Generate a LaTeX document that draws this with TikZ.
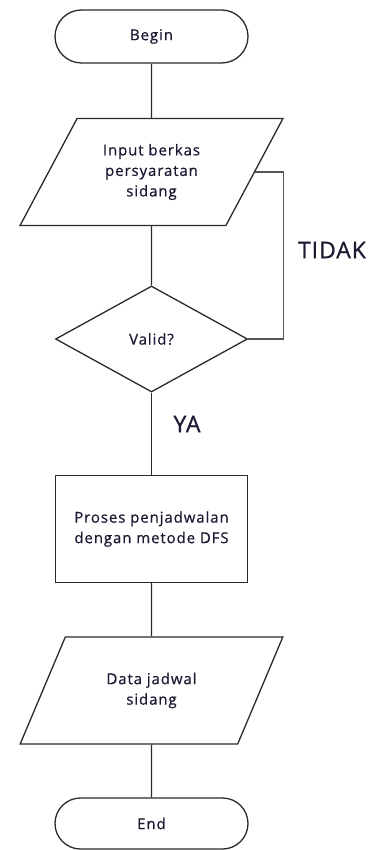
\documentclass[tikz,border=0pt]{standalone}
\usepackage{fontspec}
\setmainfont{Open Sans}[LetterSpace=6, FakeBold=0.6]
\newfontfamily\labelfont{Open Sans}[LetterSpace=4, FakeBold=0.8]
\usetikzlibrary{shapes.geometric,shapes.misc}
\definecolor{linegray}{HTML}{2A2A2A}
\definecolor{loopgray}{HTML}{555555}
\definecolor{txt}{HTML}{1A1A33}
\tikzset{
  base/.style={draw=linegray, line width=1.3pt, text=txt, font=\fontsize{15}{20.5}\selectfont, align=center, inner sep=0pt},
  terminal/.style={base, rounded rectangle, minimum width=193pt, minimum height=53pt},
  io/.style={base, trapezium, trapezium left angle=56.4, trapezium right angle=123.6, trapezium stretches=true, minimum width=263pt, minimum height=107pt},
  decision/.style={base, diamond, minimum width=192pt, minimum height=106pt},
  process/.style={base, rectangle, minimum width=192pt, minimum height=107pt},
  conn/.style={draw=linegray, line width=1.3pt},
  loopconn/.style={draw=loopgray, line width=1.4pt},
  lbl/.style={text=txt, font=\labelfont\fontsize{23}{26}\selectfont, inner sep=0pt}
}
\begin{document}
\begin{tikzpicture}[x=1pt,y=-1pt]
\useasboundingbox (0,0) rectangle (377,850);
\node[terminal] (begin) at (151.5,36.5) {Begin};
\node[io] (input) at (151.5,172) {Input berkas\\persyaratan\\sidang};
\node[decision] (valid) at (151.5,339) {Valid?};
\node[process] (proc) at (151.5,529) {Proses penjadwalan\\dengan metode DFS};
\node[io] (output) at (151.5,690.5) {Data jadwal\\sidang};
\node[terminal, minimum height=51pt] (end) at (151.5,823.5) {End};
\coordinate (loopx) at (283.5,0);
\draw[conn] (begin) -- (input);
\draw[conn] (input) -- (valid);
\draw[conn] (valid) -- (proc);
\draw[conn] (proc) -- (output);
\draw[conn] (output) -- (end);
\draw[loopconn] (valid.east) -- (valid.east -| loopx) |- (input.east);
\node[lbl] (tidak) at (332,250) {TIDAK};
\node[lbl] (ya) at (187,424) {YA};
\end{tikzpicture}
\end{document}
